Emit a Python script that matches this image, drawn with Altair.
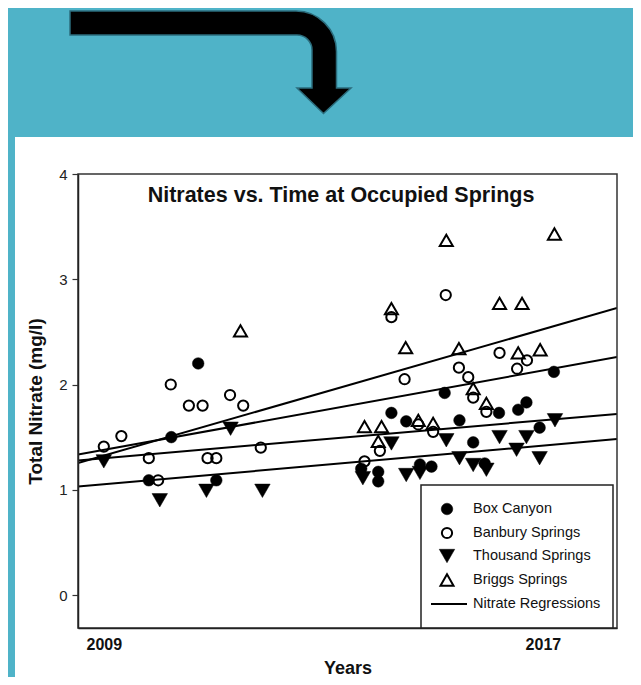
import altair as alt
import pandas as pd

# ---------------- data ----------------
series_names = ["Box Canyon", "Banbury Springs", "Thousand Springs", "Briggs Springs"]

box_years = [2009.82, 2010.23, 2010.72, 2011.05, 2013.69, 2014.00, 2014.00, 2014.24, 2014.51,
             2014.76, 2014.97, 2015.21, 2015.48, 2015.73, 2015.94, 2016.20, 2016.55, 2016.70,
             2016.94, 2017.20]
box_vals = [1.09, 1.50, 2.20, 1.09, 1.20, 1.17, 1.08, 1.73, 1.65,
            1.24, 1.22, 1.92, 1.66, 1.45, 1.25, 1.73, 1.76, 1.83,
            1.59, 2.12]

banbury_years = [2009.00, 2009.32, 2009.82, 2009.99, 2010.22, 2010.55, 2010.80, 2010.89, 2011.05,
                 2011.30, 2011.54, 2011.86, 2013.75, 2014.03, 2014.24, 2014.48, 2014.73, 2015.00,
                 2015.23, 2015.47, 2015.64, 2015.73, 2015.97, 2016.21, 2016.53, 2016.71]
banbury_vals = [1.41, 1.51, 1.30, 1.09, 2.00, 1.80, 1.80, 1.30, 1.30,
                1.90, 1.80, 1.40, 1.27, 1.37, 2.64, 2.05, 1.62, 1.55,
                2.85, 2.16, 2.07, 1.875, 1.74, 2.30, 2.15, 2.23]

thousand_years = [2009.00, 2010.02, 2010.87, 2011.31, 2011.89, 2013.72, 2014.24, 2014.51, 2014.76,
                  2015.24, 2015.48, 2015.73, 2015.97, 2016.21, 2016.52, 2016.70, 2016.94, 2017.22]
thousand_vals = [1.27, 0.90, 0.99, 1.58, 0.99, 1.11, 1.44, 1.14, 1.16,
                 1.47, 1.30, 1.235, 1.19, 1.50, 1.38, 1.50, 1.30, 1.66]

briggs_years = [2011.49, 2013.75, 2014.00, 2014.06, 2014.24, 2014.50, 2014.73, 2015.00, 2015.24,
                2015.47, 2015.73, 2015.97, 2016.21, 2016.55, 2016.62, 2016.95, 2017.21]
briggs_vals = [2.51, 1.60, 1.46, 1.60, 2.72, 2.35, 1.66, 1.63, 3.37,
               2.34, 1.96, 1.82, 2.77, 2.30, 2.77, 2.33, 3.43]

# regression lines: value at the two ends of the year range
reg_years = [2008.53, 2018.35]
reg_box = [1.279, 1.720]
reg_banbury = [1.334, 2.261]
reg_thousand = [1.030, 1.482]
reg_briggs = [1.254, 2.727]

x_labels = [2009, 2017]
y_ticks = [0, 1, 2, 3, 4]

TITLE = "Nitrates vs. Time at Occupied Springs"
LEGEND_LINE_LABEL = "Nitrate Regressions"

# ---------------- layout (page pixels) ----------------
FONT = "Liberation Sans, Arial, sans-serif"
TEAL = "#4fb3c8"
PL, PT, PR, PB = 78, 174, 617, 628
W, H = PR - PL, PB - PT


def rx(px):
    return px - PL


def ry(py):
    return py - PT


xscale = alt.Scale(domain=reg_years, nice=False, zero=False)
yscale = alt.Scale(domain=[-0.3135, 4.0], nice=False, zero=False)

xaxis = alt.Axis(values=x_labels, format="d", title="Years", tickSize=0, zindex=2,
                 labelFont=FONT, labelFontSize=16, labelFontWeight="bold", labelColor="#111",
                 labelPadding=8, titleFont=FONT, titleFontSize=18, titleFontWeight="bold",
                 titleColor="#111", titlePadding=7, grid=False, domainColor="#222",
                 domainWidth=1.5)
yaxis = alt.Axis(values=y_ticks, format="d", title="Total Nitrate (mg/l)", tickSize=6,
                 tickColor="#333", tickWidth=1.2, zindex=2,
                 labelFont=FONT, labelFontSize=15, labelColor="#222", labelPadding=5,
                 titleFont=FONT, titleFontSize=19, titleFontWeight="bold", titleColor="#111",
                 titlePadding=13, grid=False, domainColor="#222", domainWidth=1.5)

X = alt.X("year:Q", scale=xscale, axis=xaxis)
Y = alt.Y("value:Q", scale=yscale, axis=yaxis)

one = pd.DataFrame({"k": [0]})

# white panel
panel = alt.Chart(one).mark_rect(color="white").encode(
    x=alt.value(rx(15)), x2=alt.value(rx(650)), y=alt.value(ry(137)), y2=alt.value(ry(700)))

# bent arrow as a custom symbol
K = 0.552
arrow_pts = [
    ("M", [(70, 11)]),
    ("L", [(296, 11)]),
    ("C", [(296 + K * 40.5, 11), (336.5, 51.5 - K * 40.5), (336.5, 51.5)]),
    ("L", [(336.5, 88)]),
    ("L", [(351, 88)]),
    ("L", [(323.5, 113.5)]),
    ("L", [(297, 88)]),
    ("L", [(312, 88)]),
    ("L", [(312, 50)]),
    ("C", [(312, 50 - K * 15), (297 + K * 15, 35), (297, 35)]),
    ("L", [(70, 35)]),
]
ACX, ACY, AR = 210.0, 62.0, 150.0
parts = []
for cmd, pts in arrow_pts:
    coords = " ".join(f"{(px - ACX) / AR:.4f} {(py - ACY) / AR:.4f}" for px, py in pts)
    parts.append(f"{cmd} {coords}")
arrow_path = " ".join(parts) + " Z"
arrow = alt.Chart(one).mark_point(shape=arrow_path, filled=True, fill="black", stroke="#2b6c7c",
                                  strokeWidth=1.5, opacity=1, size=(2 * AR) ** 2).encode(
    x=alt.value(rx(ACX)), y=alt.value(ry(ACY)))

# regression lines
reg_df = pd.concat([
    pd.DataFrame({"line": name, "year": reg_years, "value": vals})
    for name, vals in zip(series_names, [reg_box, reg_banbury, reg_thousand, reg_briggs])
])
reg = alt.Chart(reg_df).mark_line(color="black", strokeWidth=2, clip=True).encode(
    x=X, y=Y, detail="line:N")

styles = {
    "Box Canyon": dict(shape="circle", filled=True, size=135),
    "Banbury Springs": dict(shape="circle", filled=False, size=105),
    "Thousand Springs": dict(shape="triangle-down", filled=True, size=240),
    "Briggs Springs": dict(shape="triangle-up", filled=False, size=170),
}


def pmark(chart, st, size=None):
    sz = size if size is not None else st["size"]
    if st["filled"]:
        return chart.mark_point(shape=st["shape"], filled=True, fill="black", stroke="black",
                                strokeWidth=0.5, size=sz, opacity=1)
    return chart.mark_point(shape=st["shape"], filled=False, stroke="black", strokeWidth=2,
                            size=sz, opacity=1)


series_data = {
    "Box Canyon": (box_years, box_vals),
    "Banbury Springs": (banbury_years, banbury_vals),
    "Thousand Springs": (thousand_years, thousand_vals),
    "Briggs Springs": (briggs_years, briggs_vals),
}

point_layers = []
for name in series_names:
    yrs, vals = series_data[name]
    df = pd.DataFrame({"series": name, "year": yrs, "value": vals})
    point_layers.append(pmark(alt.Chart(df), styles[name]).encode(x=X, y=Y))

# frame around plot
frame = alt.Chart(one).mark_rect(filled=False, stroke="#333", strokeWidth=1.5, fillOpacity=0).encode(
    x=alt.value(0), x2=alt.value(W), y=alt.value(0), y2=alt.value(H))

# legend
LBX0, LBY0, LBX1, LBY1 = 421, 485, 613, 628
legend_box = alt.Chart(one).mark_rect(fill="white", stroke="#222", strokeWidth=1.5).encode(
    x=alt.value(rx(LBX0)), x2=alt.value(rx(LBX1)), y=alt.value(ry(LBY0)), y2=alt.value(ry(LBY1)))
legend_layers = [legend_box]
row_y = [509, 533, 556, 580, 604]
for i, name in enumerate(series_names):
    legend_layers.append(pmark(alt.Chart(one), styles[name]).encode(
        x=alt.value(rx(447)), y=alt.value(ry(row_y[i]))))
    legend_layers.append(alt.Chart(one).mark_text(
        text=name, font=FONT, fontSize=14.5, color="#111", align="left", baseline="middle").encode(
        x=alt.value(rx(473)), y=alt.value(ry(row_y[i]))))
legend_layers.append(alt.Chart(one).mark_rule(color="black", strokeWidth=2).encode(
    x=alt.value(rx(431)), x2=alt.value(rx(467)), y=alt.value(ry(row_y[4]))))
legend_layers.append(alt.Chart(one).mark_text(
    text=LEGEND_LINE_LABEL, font=FONT, fontSize=14.5, color="#111", align="left",
    baseline="middle").encode(x=alt.value(rx(473)), y=alt.value(ry(row_y[4]))))

title = alt.Chart(one).mark_text(text=TITLE, font=FONT, fontSize=21.5, fontWeight="bold",
                                 color="#111", align="center", baseline="middle").encode(
    x=alt.value(rx(341)), y=alt.value(ry(196)))

chart = alt.layer(panel, arrow, reg, *point_layers, frame, *legend_layers, title).properties(
    width=W, height=H,
    padding={"left": PL - 8, "top": PT - 8, "right": 16, "bottom": 677 - PB},
    autosize=alt.AutoSizeParams(type="none"),
    background=TEAL,
).configure_view(strokeWidth=0)

chart.save("out.html", embed_options={"renderer": "svg", "actions": False})
